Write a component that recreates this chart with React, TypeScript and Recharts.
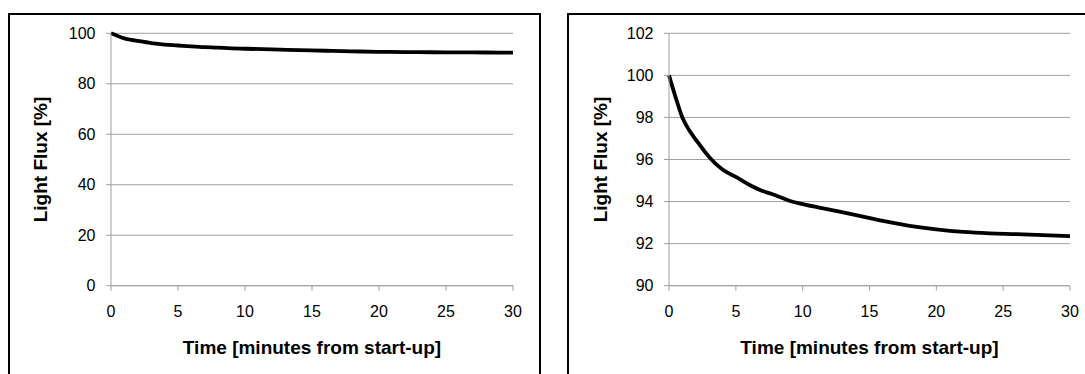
import { CartesianGrid, Line, LineChart, XAxis, YAxis } from "recharts";

// minutes from start-up
const TIME = [0, 0.5, 1, 1.5, 2, 3, 4, 5, 6, 7, 7.5, 8, 9, 10, 12, 14, 16, 18, 20, 22, 24, 26, 28, 30];
// light flux in %
const FLUX = [
  100, 98.95, 98.0, 97.4, 96.95, 96.12, 95.52, 95.17, 94.8, 94.5, 94.4, 94.29, 94.04, 93.88,
  93.62, 93.36, 93.08, 92.85, 92.68, 92.56, 92.49, 92.45, 92.4, 92.36,
];
const X_TICKS = [0, 5, 10, 15, 20, 25, 30];
const Y_TICKS_FULL = [0, 20, 40, 60, 80, 100];
const Y_TICKS_ZOOM = [90, 92, 94, 96, 98, 100, 102];

const data = TIME.map((t, i) => ({ t, flux: FLUX[i] }));

const FONT = "'Liberation Sans', Arial, sans-serif";
const GRAY = "#a0a0a0";
const TICK = { fill: "#000", fontSize: 16, fontFamily: FONT };
const TITLE = { fontSize: 19, fontWeight: 700, fontFamily: FONT, fill: "#000" };

function FluxChart({
  width,
  yWidth,
  right,
  yTicks,
  labelX,
}: {
  width: number;
  yWidth: number;
  right: number;
  yTicks: number[];
  labelX: number;
}) {
  const domain: [number, number] = [yTicks[0], yTicks[yTicks.length - 1]];
  return (
    <LineChart
      width={width}
      height={360}
      data={data}
      margin={{ top: 19.3, right, left: 0, bottom: 0 }}
    >
      <CartesianGrid stroke={GRAY} vertical={false} horizontalValues={yTicks} />
      <XAxis
        dataKey="t"
        type="number"
        domain={[0, 30]}
        ticks={X_TICKS}
        height={88.3}
        tick={TICK}
        tickSize={5}
        tickMargin={15}
        stroke={GRAY}
        label={(p: any) => {
          const vb = p.viewBox;
          return (
            <text x={vb.x + vb.width / 2} y={vb.y + 68} textAnchor="middle" style={TITLE}>
              Time [minutes from start-up]
            </text>
          );
        }}
      />
      <YAxis
        type="number"
        domain={domain}
        ticks={yTicks}
        width={yWidth}
        tick={TICK}
        tickSize={5}
        tickMargin={10.5}
        stroke={GRAY}
        label={(p: any) => {
          const vb = p.viewBox;
          const cx = labelX + 6.8;
          const cy = vb.y + vb.height / 2;
          return (
            <text
              x={cx}
              y={cy}
              textAnchor="middle"
              transform={`rotate(-90, ${cx}, ${cy})`}
              style={TITLE}
            >
              Light Flux [%]
            </text>
          );
        }}
      />
      <Line
        type="monotone"
        dataKey="flux"
        stroke="#000"
        strokeWidth={3.8}
        dot={false}
        isAnimationActive={false}
      />
    </LineChart>
  );
}

export default function App() {
  return (
    <div
      style={{
        position: "absolute",
        left: 0,
        top: 0,
        width: 1085,
        height: 374,
        overflow: "hidden",
        background: "#fff",
      }}
    >
      <div
        style={{
          position: "absolute",
          left: 8,
          top: 13,
          width: 533,
          height: 420,
          border: "2px solid #000",
          boxSizing: "border-box",
        }}
      />
      <div
        style={{
          position: "absolute",
          left: 567,
          top: 13,
          width: 560,
          height: 420,
          border: "2px solid #000",
          boxSizing: "border-box",
        }}
      />
      <div style={{ position: "absolute", left: 9, top: 14 }}>
        <FluxChart width={531} yWidth={102} right={27} yTicks={Y_TICKS_FULL} labelX={31} />
      </div>
      <div style={{ position: "absolute", left: 568, top: 14 }}>
        <FluxChart width={540} yWidth={101} right={38} yTicks={Y_TICKS_ZOOM} labelX={32} />
      </div>
    </div>
  );
}
